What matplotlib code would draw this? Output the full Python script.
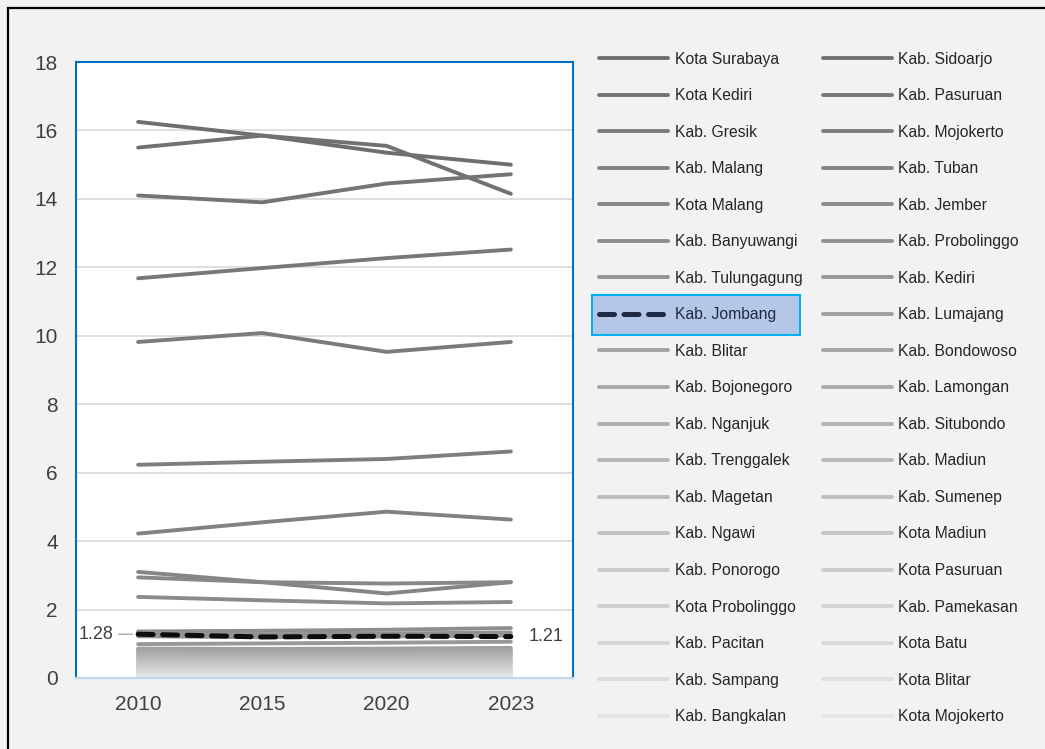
import numpy as np
import matplotlib
matplotlib.use("Agg")
import matplotlib.pyplot as plt
from matplotlib.patches import Rectangle

plt.rcParams['font.family'] = ['Liberation Sans', 'DejaVu Sans']

# data
years = ['2010', '2015', '2020', '2023']

regions = [
    'Kota Surabaya', 'Kab. Sidoarjo', 'Kota Kediri', 'Kab. Pasuruan',
    'Kab. Gresik', 'Kab. Mojokerto', 'Kab. Malang', 'Kab. Tuban',
    'Kota Malang', 'Kab. Jember', 'Kab. Banyuwangi', 'Kab. Probolinggo',
    'Kab. Tulungagung', 'Kab. Kediri', 'Kab. Jombang', 'Kab. Lumajang',
    'Kab. Blitar', 'Kab. Bondowoso', 'Kab. Bojonegoro', 'Kab. Lamongan',
    'Kab. Nganjuk', 'Kab. Situbondo', 'Kab. Trenggalek', 'Kab. Madiun',
    'Kab. Magetan', 'Kab. Sumenep', 'Kab. Ngawi', 'Kota Madiun',
    'Kab. Ponorogo', 'Kota Pasuruan', 'Kota Probolinggo', 'Kab. Pamekasan',
    'Kab. Pacitan', 'Kota Batu', 'Kab. Sampang', 'Kota Blitar',
    'Kab. Bangkalan', 'Kota Mojokerto',
]

values = [
    [16.25, 15.85, 15.35, 15.00],
    [15.50, 15.85, 15.55, 14.15],
    [14.10, 13.90, 14.45, 14.72],
    [11.68, 11.98, 12.27, 12.52],
    [9.82, 10.08, 9.53, 9.82],
    [6.23, 6.32, 6.40, 6.62],
    [4.22, 4.55, 4.86, 4.63],
    [3.10, 2.80, 2.47, 2.80],
    [2.94, 2.80, 2.76, 2.80],
    [2.37, 2.27, 2.18, 2.22],
    [1.36, 1.38, 1.41, 1.46],
    [1.31, 1.28, 1.30, 1.33],
    [1.22, 1.19, 1.21, 1.24],
    [0.99, 1.01, 1.03, 1.06],
    [1.28, 1.20, 1.22, 1.21],
    [0.86, 0.85, 0.86, 0.88],
    [0.82, 0.80, 0.81, 0.83],
    [0.78, 0.76, 0.77, 0.79],
    [0.75, 0.72, 0.73, 0.75],
    [0.71, 0.69, 0.70, 0.72],
    [0.67, 0.65, 0.66, 0.68],
    [0.63, 0.62, 0.62, 0.64],
    [0.59, 0.58, 0.58, 0.60],
    [0.55, 0.54, 0.55, 0.56],
    [0.51, 0.50, 0.51, 0.52],
    [0.47, 0.46, 0.47, 0.48],
    [0.43, 0.43, 0.43, 0.44],
    [0.39, 0.39, 0.39, 0.40],
    [0.35, 0.35, 0.35, 0.36],
    [0.31, 0.31, 0.31, 0.32],
    [0.27, 0.27, 0.27, 0.28],
    [0.24, 0.23, 0.24, 0.24],
    [0.20, 0.20, 0.20, 0.21],
    [0.16, 0.16, 0.17, 0.17],
    [0.13, 0.13, 0.13, 0.13],
    [0.10, 0.10, 0.10, 0.10],
    [0.07, 0.07, 0.07, 0.07],
    [0.04, 0.04, 0.04, 0.04],
]

highlight = 'Kab. Jombang'
first_label = '1.28'
last_label = '1.21'

# figure
fig = plt.figure(figsize=(10.45, 7.49), dpi=100)
fig.patch.set_facecolor('#f2f2f2')
ax = fig.add_axes([0.0727, 0.0948, 0.4756, 0.8224])
ax.set_facecolor('white')

x = np.arange(len(years))
n = len(regions)
lines = {}
for i, (name, vals) in enumerate(zip(regions, values)):
    if name == highlight:
        continue
    g = (110 + 120 * i / (n - 1)) / 255
    ln, = ax.plot(x, vals, color=(g, g, g), lw=2.8, solid_capstyle='round', zorder=2)
    lines[name] = ln

# highlighted series on top
hv = values[regions.index(highlight)]
ln, = ax.plot(x, hv, color='#0d0d0d', lw=3.6, ls=(0, (3.0, 1.9)),
              dash_capstyle='round', zorder=4)
lines[highlight] = ln

ax.annotate(first_label, xy=(0, hv[0]), xytext=(-25, 0), textcoords='offset pixels',
            ha='right', va='center', fontsize=13, color='#404040',
            arrowprops=dict(arrowstyle='-', color='#a6a6a6', lw=1, shrinkA=2, shrinkB=4))
ax.annotate(last_label, xy=(3, hv[3]), xytext=(18, 0), textcoords='offset pixels',
            ha='left', va='center', fontsize=13, color='#404040')

ax.set_xlim(-0.5, 3.5)
ax.set_ylim(0, 18)
ax.set_yticks(np.arange(0, 19, 2))
ax.set_xticks(x)
ax.set_xticklabels(years)
ax.tick_params(length=0, labelsize=15, labelcolor='#404040')
ax.tick_params(axis='y', pad=13)
ax.tick_params(axis='x', pad=12)
ax.grid(axis='y', color='#d9d9d9', lw=1.2, zorder=0)
ax.set_axisbelow(True)
for side in ['left', 'right', 'top']:
    ax.spines[side].set_color('#0070c0')
    ax.spines[side].set_linewidth(1.5)
ax.spines['bottom'].set_color('#bdd7ee')
ax.spines['bottom'].set_linewidth(1.5)

# legend, filled row by row
order = list(range(0, n, 2)) + list(range(1, n, 2))
handles = [lines[regions[k]] for k in order]
labels = [regions[k] for k in order]
leg = fig.legend(handles, labels, ncol=2, loc='upper left',
                 bbox_to_anchor=(0.5735, 0.9306), frameon=False, fontsize=11.3,
                 handlelength=4.4, handletextpad=0.4, columnspacing=1.3,
                 labelspacing=1.37, borderpad=0, borderaxespad=0)
for t in leg.get_texts():
    t.set_color('#262626')

# highlight box round the jombang entry
fig.canvas.draw()
r = fig.canvas.get_renderer()
k = labels.index(highlight)
leg_line = leg.get_lines()[k]
leg_line.set_color('#1f2a44')
leg.get_texts()[k].set_color('#1f2a44')
tb = leg.get_texts()[k].get_window_extent(r)
lb = leg_line.get_window_extent(r)
x0, x1 = lb.x0 - 7, tb.x1 + 24
yc = (tb.y0 + tb.y1) / 2
box = Rectangle((x0 / fig.bbox.width, (yc - 20) / fig.bbox.height),
                (x1 - x0) / fig.bbox.width, 40 / fig.bbox.height,
                transform=fig.transFigure, facecolor='#b4c7e7',
                edgecolor='#00b0f0', lw=1.5, zorder=0)
fig.patches.append(box)

# outer frame
frame = Rectangle((8 / 1045, -0.1), 1.2, 1 - 8 / 749 + 0.1, transform=fig.transFigure,
                  fill=False, edgecolor='black', lw=1.6)
fig.patches.append(frame)

fig.savefig('out.png', dpi=100, facecolor=fig.get_facecolor())
